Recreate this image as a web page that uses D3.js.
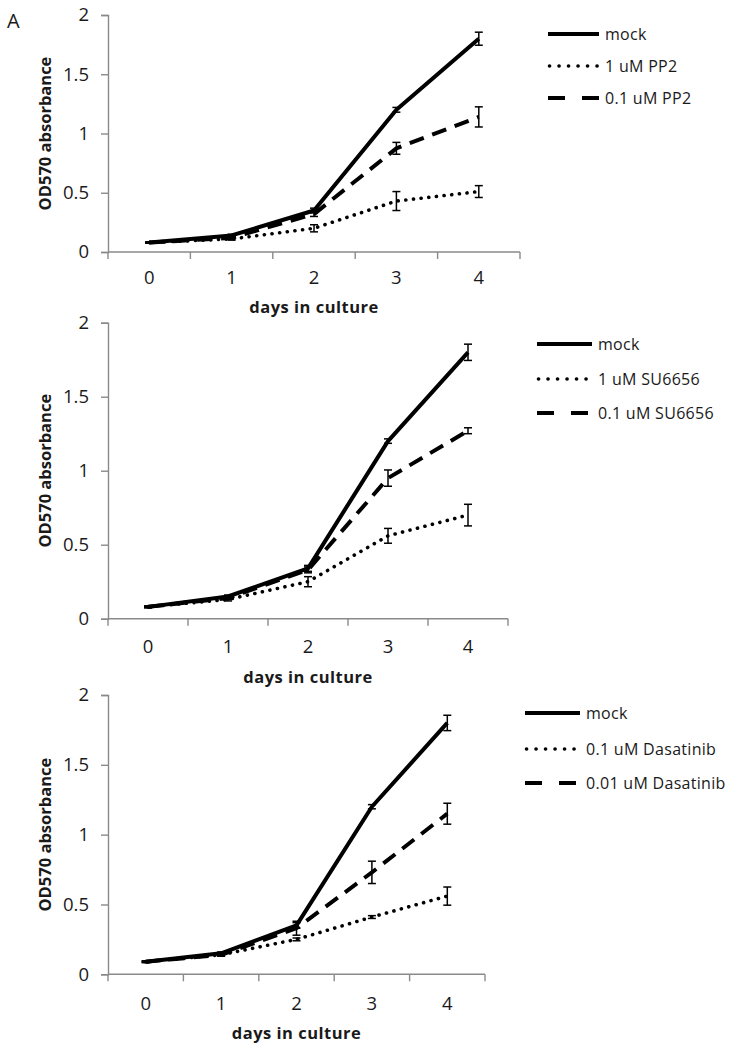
<!DOCTYPE html>
<html><head><meta charset="utf-8">
<script src="https://cdn.jsdelivr.net/npm/d3@7"></script>
<style>
html,body{margin:0;padding:0;background:#fff;}
svg text{font-family:"Open Sans",sans-serif;fill:#1a1a1a;}
</style></head>
<body>
<svg id="c" width="746" height="1050"></svg>
<script>
// ---- data ----
const days = [0, 1, 2, 3, 4];
const yTicks = [0, 0.5, 1, 1.5, 2];

const pp2Labels = ["mock", "1 uM PP2", "0.1 uM PP2"];
const pp2Mock = [0.08, 0.14, 0.35, 1.20, 1.80];
const pp2MockErr = [0.005, 0.01, 0.02, 0.02, 0.055];
const pp2High = [0.08, 0.11, 0.20, 0.43, 0.51];
const pp2HighErr = [0.005, 0.01, 0.03, 0.08, 0.05];
const pp2Low = [0.08, 0.12, 0.32, 0.875, 1.14];
const pp2LowErr = [0.005, 0.01, 0.02, 0.05, 0.085];

const suLabels = ["mock", "1 uM SU6656", "0.1 uM SU6656"];
const suMock = [0.08, 0.15, 0.34, 1.20, 1.80];
const suMockErr = [0.005, 0.01, 0.02, 0.015, 0.055];
const suHigh = [0.08, 0.13, 0.25, 0.56, 0.70];
const suHighErr = [0.005, 0.01, 0.034, 0.05, 0.073];
const suLow = [0.08, 0.14, 0.33, 0.95, 1.27];
const suLowErr = [0.005, 0.01, 0.02, 0.055, 0.02];

const dasLabels = ["mock", "0.1 uM Dasatinib", "0.01 uM Dasatinib"];
const dasMock = [0.09, 0.15, 0.35, 1.20, 1.80];
const dasMockErr = [0.005, 0.01, 0.02, 0.015, 0.055];
const dasHigh = [0.09, 0.14, 0.25, 0.41, 0.56];
const dasHighErr = [0.005, 0.01, 0.01, 0.01, 0.065];
const dasLow = [0.09, 0.14, 0.33, 0.73, 1.15];
const dasLowErr = [0.005, 0.01, 0.05, 0.08, 0.075];

const xTitle = "days in culture";
const yTitle = "OD570 absorbance";

// ---- layout ----
const panels = [
  {top: 15, bot: 252, right: 520, legX: 548, legLen: 51, legY: [34, 66, 98], tickDy: 26, titleDy: 55,
   labels: pp2Labels, series: [[pp2Mock, pp2MockErr], [pp2High, pp2HighErr], [pp2Low, pp2LowErr]]},
  {top: 322.7, bot: 618.7, right: 508, legX: 537, legLen: 55, legY: [344, 379, 413], tickDy: 28, titleDy: 59,
   labels: suLabels, series: [[suMock, suMockErr], [suHigh, suHighErr], [suLow, suLowErr]]},
  {top: 695, bot: 974.3, right: 485, legX: 525, legLen: 55, legY: [713, 749, 783], tickDy: 29, titleDy: 59,
   labels: dasLabels, series: [[dasMock, dasMockErr], [dasHigh, dasHighErr], [dasLow, dasLowErr]]}
];
const styles = [
  {w: 4, dash: null, cap: "butt", legDash: null},
  {w: 3.6, dash: "0.1 7.6", cap: "round", legDash: "0.1 9.4"},
  {w: 4, dash: "15 9", cap: "butt", legDash: "17 17"}
];
const axisColor = "#8a8a8a";
const left = 108;

const svg = d3.select("#c");

svg.append("text").attr("x", 7).attr("y", 28).attr("font-size", 20).text("A");

panels.forEach(p => {
  const g = svg.append("g");
  const x = d3.scaleBand().domain(days).range([left, p.right]);
  const y = d3.scaleLinear().domain([0, 2]).range([p.bot, p.top]);

  // y axis
  const ya = g.append("g").attr("transform", `translate(${left},0)`)
    .call(d3.axisLeft(y).tickValues(yTicks).tickFormat(d3.format("")).tickSize(7).tickPadding(12));
  ya.select(".domain").attr("stroke", axisColor).attr("stroke-width", 1.4);
  ya.selectAll(".tick line").attr("stroke", axisColor).attr("stroke-width", 1.4);
  ya.selectAll(".tick text").attr("font-size", 18.5).attr("fill", "#1a1a1a").attr("font-family", "Open Sans");

  // x axis (ticks at band boundaries)
  const xa = g.append("g").attr("transform", `translate(0,${p.bot})`);
  xa.append("line").attr("x1", left).attr("x2", p.right).attr("stroke", axisColor).attr("stroke-width", 1.4);
  const bounds = days.map(d => x(d)).concat([p.right]);
  xa.selectAll("line.tk").data(bounds).join("line").attr("class", "tk")
    .attr("x1", d => d).attr("x2", d => d).attr("y1", 0).attr("y2", 7)
    .attr("stroke", axisColor).attr("stroke-width", 1.4);
  xa.selectAll("text").data(days).join("text")
    .attr("x", d => x(d) + x.bandwidth() / 2).attr("y", p.tickDy).attr("dy", "0.35em")
    .attr("text-anchor", "middle").attr("font-size", 18.5).text(d => d);

  // titles
  g.append("text").attr("x", (left + p.right) / 2).attr("y", p.bot + p.titleDy).attr("dy", "0.35em")
    .attr("text-anchor", "middle").attr("font-size", 16.5).attr("letter-spacing", 0.5)
    .attr("font-weight", "bold").text(xTitle);
  g.append("text").attr("transform", `translate(45,${(p.top + p.bot) / 2}) rotate(-90)`)
    .attr("dy", "0.35em").attr("text-anchor", "middle").attr("font-size", 16.5).attr("font-weight", "bold")
    .text(yTitle);

  const cx = d => x(d) + x.bandwidth() / 2;
  // series
  p.series.forEach((s, i) => {
    const st = styles[i];
    const vals = s[0], errs = s[1];
    const line = d3.line().x((d, j) => cx(days[j])).y(d => y(d));
    g.append("path").datum(vals).attr("d", line).attr("fill", "none").attr("stroke", "#000")
      .attr("stroke-width", st.w).attr("stroke-dasharray", st.dash).attr("stroke-linecap", st.cap)
      .attr("stroke-linejoin", "round");
    const eb = g.append("g");
    vals.forEach((v, j) => {
      const X = cx(days[j]), y1 = y(v + errs[j]), y2 = y(v - errs[j]);
      eb.append("line").attr("x1", X).attr("x2", X).attr("y1", y1).attr("y2", y2).attr("stroke", "#000").attr("stroke-width", 1.5);
      [y1, y2].forEach(yy => eb.append("line").attr("x1", X - 4).attr("x2", X + 4).attr("y1", yy).attr("y2", yy)
        .attr("stroke", "#000").attr("stroke-width", 1.5));
    });
  });

  // legend
  p.labels.forEach((lab, i) => {
    const st = styles[i];
    const ly = p.legY[i];
    g.append("line").attr("x1", p.legX + (i === 1 ? 1.5 : 0)).attr("x2", p.legX + p.legLen).attr("y1", ly).attr("y2", ly)
      .attr("stroke", "#000").attr("stroke-width", st.w).attr("stroke-dasharray", st.legDash)
      .attr("stroke-linecap", st.cap);
    g.append("text").attr("x", p.legX + p.legLen + 6).attr("y", ly).attr("dy", "0.35em")
      .attr("font-size", 16).attr("letter-spacing", 0.3).text(lab);
  });
});
</script>
</body></html>
